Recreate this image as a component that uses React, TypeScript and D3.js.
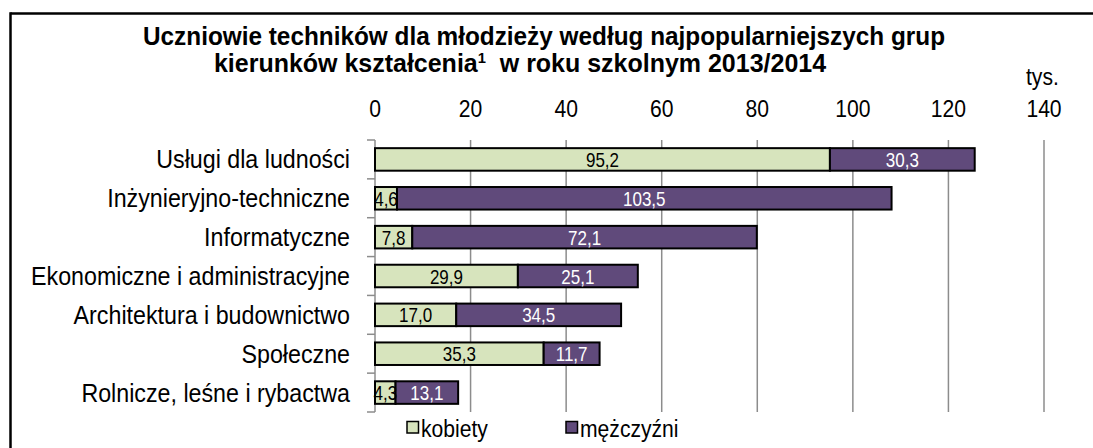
import React from "react";
import * as d3 from "d3";

const categories = [
  "Usługi dla ludności",
  "Inżynieryjno-techniczne",
  "Informatyczne",
  "Ekonomiczne i administracyjne",
  "Architektura i budownictwo",
  "Społeczne",
  "Rolnicze, leśne i rybactwa",
];
const kobiety = [95.2, 4.6, 7.8, 29.9, 17.0, 35.3, 4.3];
const mezczyzni = [30.3, 103.5, 72.1, 25.1, 34.5, 11.7, 13.1];
const xTicks = [0, 20, 40, 60, 80, 100, 120, 140];
const seriesNames = ["kobiety", "mężczyźni"];

const W = 1093;
const H = 448;
const FONT = "'Liberation Sans', Arial, sans-serif";
const GREEN = "#d7e4bd";
const PURPLE = "#604a7b";
const GRID = "#8c8c8c";

const fmt = (v: number) => v.toFixed(1).replace(".", ",");

// text drawn slightly condensed, like the narrow face of the original
function NText(props: {
  x: number;
  y: number;
  size: number;
  anchor?: "start" | "middle" | "end";
  sx?: number;
  fill?: string;
  weight?: string;
  children: React.ReactNode;
}) {
  const { x, y, size, anchor = "start", sx = 0.9, fill = "#000", weight = "normal", children } = props;
  return (
    <text
      transform={`translate(${x},${y}) scale(${sx},1)`}
      textAnchor={anchor}
      fontFamily={FONT}
      fontSize={size}
      fontWeight={weight}
      fill={fill}
    >
      {children}
    </text>
  );
}

export default function App() {
  const x = d3.scaleLinear().domain([0, 140]).range([375, 1044]);
  const y = d3
    .scaleBand<string>()
    .domain(categories)
    .range([140, 412])
    .paddingInner(0.42)
    .paddingOuter(0.21);
  const step = y.step();
  const bw = y.bandwidth();

  const stack = d3
    .stack<number>()
    .keys(["k", "m"])
    .value((i, key) => (key === "k" ? kobiety[i] : mezczyzni[i]));
  const series = stack(categories.map((_, i) => i));
  const fills = [GREEN, PURPLE];
  const labelColors = ["#000", "#fff"];

  const bandEdges = d3.range(categories.length + 1).map((i) => 140 + i * step);

  return (
    <svg width={W} height={H} style={{ position: "absolute", left: 0, top: 0, background: "#fff" }}>
      <rect x={0} y={0} width={W} height={H} fill="#fff" />
      {/* frame */}
      <line x1={10.5} y1={13.5} x2={W + 5} y2={13.5} stroke="#000" strokeWidth={2.5} />
      <line x1={10.5} y1={12.3} x2={10.5} y2={H + 5} stroke="#000" strokeWidth={2.5} />

      {/* title */}
      <NText x={544} y={45} size={25.5} sx={0.955} anchor="middle" weight="bold">
        Uczniowie techników dla młodzieży według najpopularniejszych grup
      </NText>
      <NText x={520} y={72} size={25.5} sx={0.98} anchor="middle" weight="bold">
        kierunków kształcenia
        <tspan fontSize={15} dy={-9}>1</tspan>
        <tspan dy={9}>{"\u00a0 w roku szkolnym 2013/2014"}</tspan>
      </NText>

      {/* unit */}
      <NText x={1026} y={85} size={24} sx={0.88}>
        tys.
      </NText>

      {/* x tick labels */}
      {xTicks.map((t) => (
        <NText key={t} x={x(t)} y={117} size={24} sx={0.88} anchor="middle">
          {t}
        </NText>
      ))}

      {/* gridlines */}
      {xTicks
        .filter((t) => t > 0)
        .map((t) => (
          <line key={t} x1={x(t)} x2={x(t)} y1={140} y2={412} stroke={GRID} strokeWidth={1.5} />
        ))}

      {/* y axis */}
      <line x1={x(0)} x2={x(0)} y1={140} y2={412} stroke={GRID} strokeWidth={1.5} />
      {bandEdges.map((e, i) => (
        <line key={i} x1={x(0) - 8} x2={x(0)} y1={e} y2={e} stroke={GRID} strokeWidth={1.5} />
      ))}

      {/* category labels */}
      {categories.map((c) => (
        <NText key={c} x={350} y={(y(c) as number) + bw / 2 + 9} size={25} sx={0.93} anchor="end">
          {c}
        </NText>
      ))}

      {/* bars */}
      {series.map((s, si) =>
        s.map((d, i) => (
          <rect
            key={`${si}-${i}`}
            x={x(d[0])}
            y={y(categories[i]) as number}
            width={x(d[1]) - x(d[0])}
            height={bw}
            fill={fills[si]}
            stroke="#000"
            strokeWidth={2}
          />
        ))
      )}

      {/* value labels */}
      {series.map((s, si) =>
        s.map((d, i) => (
          <NText
            key={`l-${si}-${i}`}
            x={(x(d[0]) + x(d[1])) / 2}
            y={(y(categories[i]) as number) + bw / 2 + 7.5}
            size={20}
            sx={0.85}
            anchor="middle"
            fill={labelColors[si]}
          >
            {fmt(d[1] - d[0])}
          </NText>
        ))
      )}

      {/* legend */}
      {seriesNames.map((n, i) => {
        const lx = [407, 566][i];
        return (
          <g key={n}>
            <rect x={lx} y={421.5} width={11.5} height={11.5} fill={fills[i]} stroke="#000" strokeWidth={1.5} />
            <NText x={lx + 14} y={437} size={24} sx={0.88}>
              {n}
            </NText>
          </g>
        );
      })}
    </svg>
  );
}
